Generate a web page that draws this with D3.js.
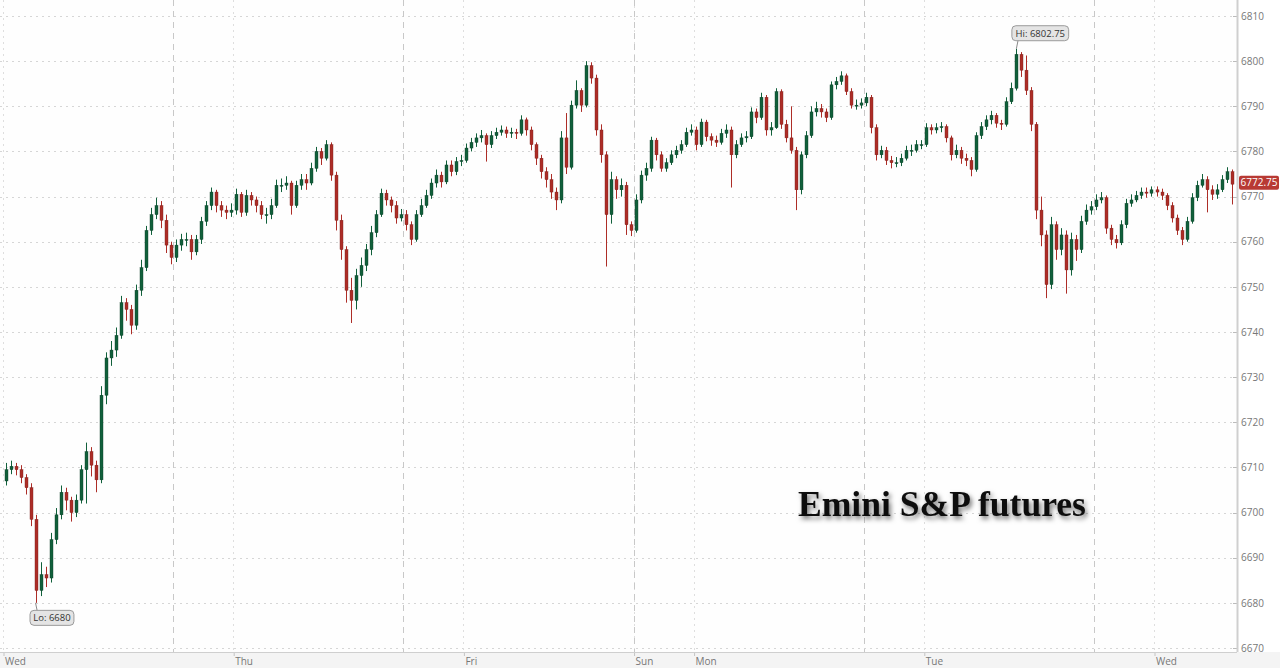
<!DOCTYPE html>
<html>
<head>
<meta charset="utf-8">
<script src="https://cdn.jsdelivr.net/npm/d3@7"></script>
<style>
  html, body { margin: 0; padding: 0; background: #ffffff; }
  svg { display: block; }
  .tick-label { font-family: "Open Sans", "Noto Sans", sans-serif; font-size: 10px; fill: #777; }
</style>
</head>
<body>
<svg id="chart" width="1280" height="668"></svg>
<script>
// ---------------- DATA (30-minute bars, trading hours since Wed 00:00) ----------------
const firstOpen = 6707;
const closes = [
6709.5,6710.25,6709.5,6707.75,6705.5,6698.5,6682.75,6686.25,6685.5,6694,
6699.5,6704.5,6702.75,6700,6702.75,6709.5,6713.5,6710.5,6707.25,6726,
6734.25,6736,6739.25,6746.5,6745,6741.5,6749.25,6754.25,6762.5,6766,
6768,6764.75,6759.25,6756.5,6759.25,6760.5,6760.5,6757.75,6760.5,6764.5,
6768,6771,6768,6767,6766.5,6767,6770.5,6766.5,6770.25,6769.25,
6768,6766,6766,6768,6772.5,6772.5,6773,6768,6772.5,6773.75,
6773,6776.25,6780,6778.5,6781.5,6774.75,6764.75,6758.25,6749.25,6747,
6752.5,6754.75,6758.25,6762,6766,6770.75,6769.25,6768,6765.25,6766,
6763.75,6760.5,6766,6768,6770.25,6773,6774.75,6773.25,6777,6775.5,
6777.75,6778,6780.75,6782,6783,6783.5,6781.5,6783.5,6784.25,6784.75,
6784,6784.25,6784,6787,6784.75,6781.5,6778.5,6775.5,6773.75,6771,
6769.25,6783,6776.5,6790.25,6793.5,6790.25,6799,6796.25,6784.75,6779.25,
6766,6773.75,6771.5,6772.5,6763.75,6762.5,6769.25,6774.75,6776.25,6782.5,
6779.25,6776.25,6777.5,6779.25,6780.25,6781.5,6784.25,6784.75,6781.5,6786.5,
6783.25,6782.5,6782,6784,6784.75,6779.25,6781.5,6783,6783.25,6788.75,
6787.5,6792,6784.75,6785.25,6793.25,6786,6783,6780.25,6771.5,6779.25,
6783.5,6788.75,6789.5,6788.75,6787.5,6794.75,6795.5,6796.75,6793.25,6790.25,
6790.25,6790.75,6792,6785.25,6779.25,6780.25,6778,6777.5,6777.5,6778.5,
6780.25,6780.25,6781.5,6781.5,6785.25,6784.75,6785.25,6785.5,6783,6779.25,
6780.25,6778.5,6778,6776,6783.5,6785.5,6787,6788,6786.25,6786,
6791,6794,6801.5,6798,6793.5,6786,6767,6761.5,6750.5,6763.75,
6758.25,6761.5,6753.75,6760.5,6758.25,6764.5,6767,6767.75,6769.25,6769.75,
6763,6760.5,6759.75,6763.75,6768.5,6769.25,6770.25,6771,6770.75,6771.5,
6771,6770.25,6768,6765.25,6762.5,6760.5,6764.5,6769.75,6772.5,6773.75,
6771.5,6770.5,6771.5,6773.75,6775.5,6772.75
];
const highs = [
6711,6711.5,6711,6710.5,6708.5,6706.5,6699.5,6689,6688,6695.5,
6701,6706,6705.5,6703.5,6704,6710.5,6715.5,6714.5,6711.5,6728,
6735.5,6738,6741,6748,6747.5,6746,6750.5,6756,6763.5,6767.5,
6769.75,6769,6766,6760,6760.5,6761.75,6762,6761.5,6761.5,6765.5,
6769,6772,6771.5,6769,6768,6768.5,6771.75,6771,6771.5,6771,
6770,6769,6767.5,6769.5,6773.75,6774,6774.5,6773.5,6773.5,6775,
6775,6777.5,6781,6780.75,6782.5,6782,6775.5,6766,6759,6752,
6754,6756.5,6759.5,6763.5,6767,6771.75,6771.5,6770,6769,6767.25,
6767,6764.5,6767,6769.5,6771.5,6774,6776,6775.5,6778,6778,
6778.75,6779.25,6781.75,6783,6784,6784.75,6784,6784.5,6785.25,6785.75,
6785.5,6785.25,6785,6788,6787.5,6785.5,6782,6779.25,6776.5,6775,
6772,6784.5,6788.5,6791.25,6795.75,6794,6800,6799.75,6797,6786,
6780,6775.5,6774.5,6774,6773.25,6764.5,6770.5,6775.75,6777.5,6783.25,
6783,6780,6778.5,6780.25,6781.25,6782.5,6785.25,6786,6785.5,6787.25,
6787,6784,6783.5,6785,6786,6785.5,6782.5,6784,6784.5,6789.75,
6789.5,6793,6792.5,6786.5,6794,6793.75,6787,6790,6781,6780,
6784.5,6790,6791,6790.5,6789.5,6795.5,6796.5,6797.75,6797.25,6794,
6791.5,6791.75,6793,6792.5,6786,6781.25,6781,6779,6778.75,6779.5,
6781.25,6781.5,6782.5,6782.5,6786.25,6786,6786.25,6786.5,6786,6783.5,
6781.5,6781,6779.5,6778.75,6784.25,6786.5,6788,6789,6788.5,6787,
6792,6795.25,6802.75,6802,6801.25,6794.25,6786.5,6770,6762.5,6765.5,
6764.5,6763,6762.5,6762,6761.5,6765.75,6768.25,6769,6770.5,6771,
6770.25,6763.75,6761.5,6764.75,6769.5,6770.5,6771.25,6772,6772,6772.25,
6772.25,6771.75,6770.75,6768.75,6766,6763.25,6765.5,6770.75,6773.5,6775,
6774.5,6772.5,6772.75,6774.75,6776.5,6776
];
const lows = [
6706,6708.5,6708.25,6706.5,6704,6697,6680,6681.5,6683.5,6684.5,
6693,6698.5,6700.5,6698,6699,6702,6702,6708,6704.5,6706.5,
6724,6732.5,6734.5,6738.5,6742.5,6739.5,6740.5,6748,6753.5,6761.5,
6765,6763,6757.5,6755,6755.5,6758,6759,6756,6757,6759.5,
6763.5,6767,6766.5,6765.5,6765,6765.5,6766,6765.5,6765.75,6768,
6766.5,6765,6764,6765,6767.5,6771,6771.5,6766,6767.5,6771.5,
6771.5,6772.5,6775.5,6777,6778,6773.5,6762.5,6756,6746.5,6742,
6745,6750,6753.5,6757,6761,6765.5,6768,6766.5,6764,6764.5,
6762.5,6759.25,6760,6765.5,6767.5,6769.5,6772,6772,6772.75,6774.5,
6774.75,6776.75,6777.5,6780,6781,6782,6777.75,6780.75,6782.75,6783.5,
6783,6783,6782.75,6783.5,6783.5,6780.25,6777,6774,6772,6769.5,
6767,6768.5,6775,6776,6789.5,6788.75,6789.75,6795,6783.5,6777.5,
6754.5,6764,6769.5,6770,6761.5,6761.25,6762,6768.5,6773.5,6775.5,
6778,6775.5,6775.5,6777,6778.5,6779.5,6781,6783.5,6780.25,6781,
6782.25,6781.25,6781,6781.5,6783,6772,6778.5,6781,6782,6782.75,
6786.25,6787,6783.5,6783.5,6785,6785,6782,6779.5,6767,6770.5,
6778.5,6783,6787.75,6787.5,6786.5,6787,6793.75,6794.75,6792.5,6789.5,
6789.25,6789.5,6790,6784,6778,6778.5,6777,6776.25,6776.5,6776.75,
6778,6779,6779.75,6780.5,6781,6783.75,6784,6784.25,6782,6778,
6778.5,6777.25,6776.75,6774.5,6775.5,6782.75,6784.75,6786,6785.25,6784.75,
6785.5,6790.5,6793.5,6796.5,6792.5,6784.5,6765,6759,6747.5,6749.5,
6756,6757,6748.5,6752.5,6755.75,6757.5,6763.75,6766,6767,6768.5,
6761.75,6759.25,6758.5,6759.25,6763,6767.75,6768.75,6769.5,6769.75,6770,
6770,6769.25,6767,6764.25,6761.5,6759.25,6760,6764,6769,6772,
6766.5,6769.25,6769.5,6771,6773,6768.25
];
const barHours = 0.5;                 // bar length in trading hours
const yTicks = [6670,6680,6690,6700,6710,6720,6730,6740,6750,6760,6770,6780,6790,6800,6810];
const dayTickHours = [0, 23, 46, 63, 69, 92, 115];
const dayTickLabels = ["Wed", "Thu", "Fri", "Sun", "Mon", "Tue", "Wed"];
const sessionBreakHours = [17, 40, 63, 86, 109];
const titleText = "Emini S&P futures";

// ---------------- BUILD ----------------
const bars = closes.map((c, i) => ({
  t: i * barHours + barHours / 2,
  o: i === 0 ? firstOpen : closes[i - 1],
  h: highs[i], l: lows[i], c: c
}));

const W = 1280, H = 668;
const plotRight = 1237, plotBottom = 652;
const svg = d3.select("#chart");

const x = d3.scaleLinear().domain([0, 115]).range([3, 1154]);
const y = d3.scaleLinear().domain([6670, 6810]).range([648, 16]);

const defs = svg.append("defs");
const f = defs.append("filter").attr("id", "shadow").attr("x", "-10%").attr("y", "-30%").attr("width", "130%").attr("height", "180%");
f.append("feDropShadow").attr("dx", 2).attr("dy", 3).attr("stdDeviation", 2.6).attr("flood-color", "#000").attr("flood-opacity", 0.55);

// backgrounds
svg.append("rect").attr("x", 0).attr("y", 0).attr("width", W).attr("height", H).attr("fill", "#ffffff");
svg.append("rect").attr("x", 0).attr("y", plotBottom).attr("width", W).attr("height", H - plotBottom).attr("fill", "#f4f4f4");
svg.append("rect").attr("x", 0).attr("y", 0).attr("width", plotRight).attr("height", plotBottom).attr("fill", "#fefefe");

// horizontal grid
svg.append("g").selectAll("line").data(yTicks).join("line")
  .attr("x1", 0).attr("x2", plotRight)
  .attr("y1", d => Math.round(y(d)) + 0.5).attr("y2", d => Math.round(y(d)) + 0.5)
  .attr("stroke", "#d6d6d6").attr("stroke-width", 1).attr("stroke-dasharray", "2,4");

// vertical dotted grid at day ticks
svg.append("g").selectAll("line").data(dayTickHours).join("line")
  .attr("x1", d => Math.round(x(d)) + 0.5).attr("x2", d => Math.round(x(d)) + 0.5)
  .attr("y1", 0).attr("y2", plotBottom)
  .attr("stroke", "#dedede").attr("stroke-width", 1).attr("stroke-dasharray", "2,4");

// session break dashed lines
svg.append("g").selectAll("line").data(sessionBreakHours).join("line")
  .attr("x1", d => Math.round(x(d)) + 0.5).attr("x2", d => Math.round(x(d)) + 0.5)
  .attr("y1", 0).attr("y2", plotBottom)
  .attr("stroke", "#c8c8c8").attr("stroke-width", 1).attr("stroke-dasharray", "6,5");

// candles
const upCol = "#11603b", downCol = "#ad2d27";
const cg = svg.append("g");
const bw = 3;
cg.selectAll("line").data(bars).join("line")
  .attr("x1", d => Math.round(x(d.t)) + 0.5).attr("x2", d => Math.round(x(d.t)) + 0.5)
  .attr("y1", d => y(d.h)).attr("y2", d => y(d.l))
  .attr("stroke", d => d.c >= d.o ? upCol : downCol).attr("stroke-width", 1);
cg.selectAll("rect").data(bars).join("rect")
  .attr("x", d => Math.round(x(d.t)) - 1)
  .attr("y", d => y(Math.max(d.o, d.c)))
  .attr("width", bw)
  .attr("height", d => Math.max(1, Math.abs(y(d.o) - y(d.c))))
  .attr("fill", d => d.c >= d.o ? upCol : downCol)
  .attr("stroke", d => d.c >= d.o ? "#0b3d26" : "#7a1f1b").attr("stroke-width", 0.4);

// right axis
const yAxis = d3.axisRight(y).tickValues(yTicks).tickSize(0).tickPadding(4).tickFormat(d3.format("d"));
const ya = svg.append("g").attr("transform", `translate(${plotRight},0)`).call(yAxis);
ya.select(".domain").remove();
ya.selectAll("text").attr("class", "tick-label").attr("font-size", null).attr("font-family", null).attr("fill", null);
svg.append("g").selectAll("line").data(yTicks).join("line")
  .attr("x1", plotRight - 4).attr("x2", plotRight)
  .attr("y1", d => Math.round(y(d)) + 0.5).attr("y2", d => Math.round(y(d)) + 0.5)
  .attr("stroke", "#bbb");
svg.append("line").attr("x1", plotRight + 0.5).attr("x2", plotRight + 0.5).attr("y1", 0).attr("y2", plotBottom)
  .attr("stroke", "#cfcfcf").attr("stroke-width", 2);

// bottom axis
const xAxis = d3.axisBottom(x).tickValues(dayTickHours).tickSize(4).tickFormat((d, i) => dayTickLabels[i]);
const xa = svg.append("g").attr("transform", `translate(0.5,${plotBottom})`).call(xAxis);
xa.select(".domain").remove();
xa.selectAll(".tick line").attr("stroke", "#c4c4c4");
xa.selectAll("text").attr("class", "tick-label").attr("font-size", null).attr("font-family", null).attr("fill", null)
  .attr("text-anchor", "start").attr("dx", 1).attr("dy", "0.55em");
svg.append("line").attr("x1", 0).attr("x2", plotRight).attr("y1", plotBottom + 0.5).attr("y2", plotBottom + 0.5)
  .attr("stroke", "#cfcfcf").attr("stroke-width", 1);

// last price label
const last = bars[bars.length - 1];
const lg = svg.append("g").attr("transform", `translate(${plotRight + 2},${y(last.c) - 1.5})`);
lg.append("rect").attr("x", 0).attr("y", -7).attr("width", 40).attr("height", 14).attr("rx", 2)
  .attr("fill", "#b83a34");
lg.append("text").attr("x", 20).attr("y", 0).attr("dy", "0.35em").attr("text-anchor", "middle")
  .attr("font-family", "'Open Sans', sans-serif").attr("font-size", 10).attr("fill", "#fff")
  .text(d3.format(".2f")(last.c));

// Hi / Lo callouts
const hiBar = bars.reduce((a, b) => (b.h > a.h ? b : a));
const loBar = bars.reduce((a, b) => (b.l < a.l ? b : a));
function callout(px, py, text, boxX, boxY, pointerUp) {
  const g = svg.append("g");
  const bwid = text.length * 4.3 + 9.5, bh = 15;
  const attachY = pointerUp ? boxY + bh : boxY;
  g.append("path").attr("d", `M${px},${py} L${px + 2},${attachY + (pointerUp ? -2 : 2)} L${px + 6},${attachY + (pointerUp ? -2 : 2)}`)
    .attr("fill", "none").attr("stroke", "#8a8a8a").attr("stroke-width", 1);
  g.append("rect").attr("x", boxX).attr("y", boxY).attr("width", bwid).attr("height", bh).attr("rx", 4)
    .attr("fill", "#e4e4e4").attr("stroke", "#9a9a9a").attr("stroke-width", 1);
  g.append("text").attr("x", boxX + bwid / 2).attr("y", boxY + bh / 2).attr("dy", "0.35em").attr("text-anchor", "middle")
    .attr("font-family", "'Open Sans', sans-serif").attr("font-size", 9.5).attr("fill", "#333").text(text);
}
callout(x(hiBar.t), y(hiBar.h), "Hi: " + hiBar.h, x(hiBar.t) - 4.5, y(hiBar.h) - 23, true);
callout(x(loBar.t), y(loBar.l), "Lo: " + loBar.l, x(loBar.t) - 5.5, y(loBar.l) + 7.5, false);

// title
svg.append("text").attr("x", 798).attr("y", 516)
  .attr("font-family", "'Liberation Serif', 'Times New Roman', serif").attr("font-weight", "bold")
  .attr("font-size", 35.6).attr("fill", "#111").attr("filter", "url(#shadow)")
  .text(titleText);
</script>
</body>
</html>
